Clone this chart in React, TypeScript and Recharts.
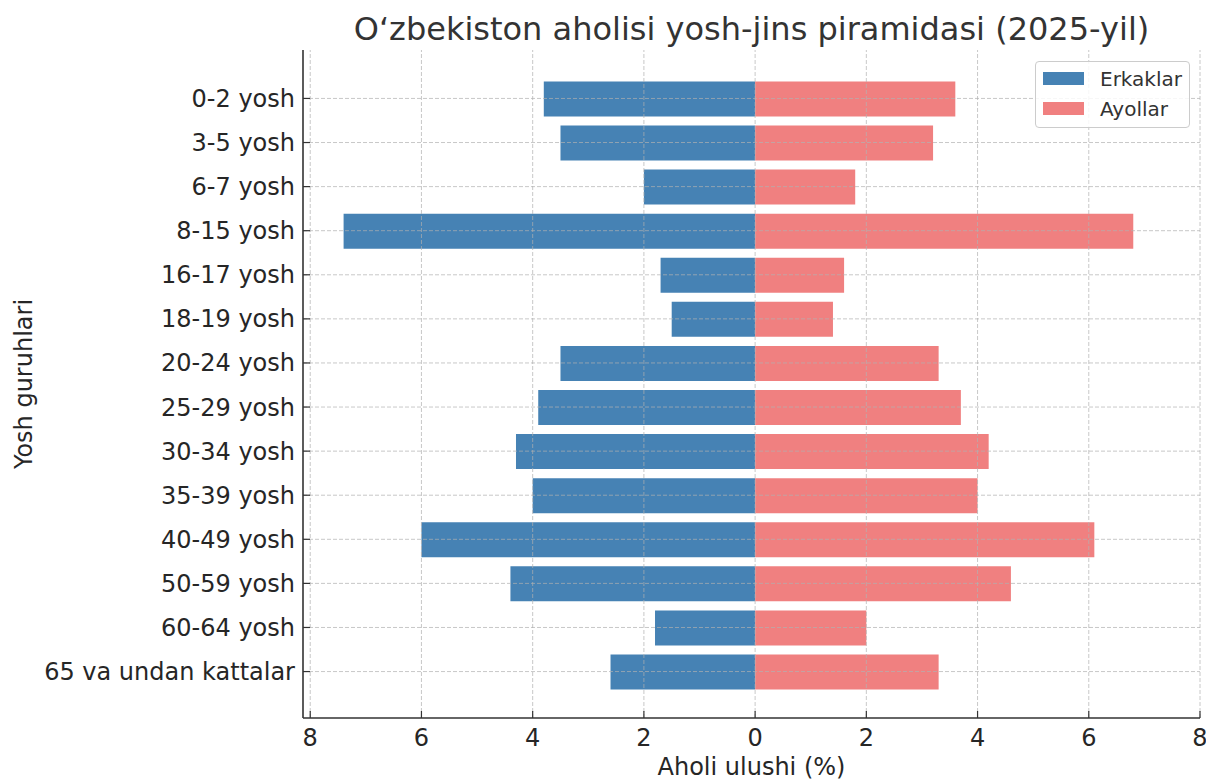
import React from 'react';
import { BarChart, Bar, XAxis, YAxis, ReferenceLine, Legend, Label } from 'recharts';

const ageGroups: string[] = [
  '0-2 yosh', '3-5 yosh', '6-7 yosh', '8-15 yosh', '16-17 yosh', '18-19 yosh',
  '20-24 yosh', '25-29 yosh', '30-34 yosh', '35-39 yosh', '40-49 yosh',
  '50-59 yosh', '60-64 yosh', '65 va undan kattalar',
];
const maleShare: number[] = [3.8, 3.5, 2.0, 7.4, 1.7, 1.5, 3.5, 3.9, 4.3, 4.0, 6.0, 4.4, 1.8, 2.6];
const femaleShare: number[] = [3.6, 3.2, 1.8, 6.8, 1.6, 1.4, 3.3, 3.7, 4.2, 4.0, 6.1, 4.6, 2.0, 3.3];
const xTicks: number[] = [-8, -6, -4, -2, 0, 2, 4, 6, 8];

const seriesNames = { male: 'Erkaklar', female: 'Ayollar' };
const seriesColors = { male: '#4682B4', female: '#F08080' };

const titleText = 'O\u2018zbekiston aholisi yosh-jins piramidasi (2025-yil)';
const xLabelText = 'Aholi ulushi (%)';
const yLabelText = 'Yosh guruhlari';

const data = ageGroups.map((g, i) => ({
  group: g,
  [seriesNames.male]: -maleShare[i],
  [seriesNames.female]: femaleShare[i],
}));

const FONT = '"DejaVu Sans", sans-serif';
const TEXT = '#262626';
const GRID = '#b0b0b0';

const legendItems = [
  { name: seriesNames.male, color: seriesColors.male },
  { name: seriesNames.female, color: seriesColors.female },
];

const LegendBox = () => (
  <div
    style={{
      width: 153,
      height: 65,
      border: '1px solid #cccccc',
      borderRadius: 4,
      background: 'rgba(255,255,255,0.85)',
      position: 'relative',
      fontFamily: FONT,
      fontSize: 20,
      color: '#333',
    }}
  >
    {legendItems.map((it, i) => (
      <div
        key={it.name}
        style={{ position: 'absolute', left: 0, top: 4 + i * 30, height: 26, width: 153 }}
      >
        <div
          style={{ position: 'absolute', left: 7, top: 6, width: 41, height: 13, background: it.color }}
        />
        <div style={{ position: 'absolute', left: 64, top: 0, lineHeight: '26px', whiteSpace: 'nowrap' }}>
          {it.name}
        </div>
      </div>
    ))}
  </div>
);

export default function App() {
  return (
    <div style={{ position: 'absolute', left: 0, top: 0, width: 1206, height: 780, background: '#fff', fontFamily: FONT }}>
      <BarChart
        width={1206}
        height={780}
        data={data}
        layout="vertical"
        stackOffset="sign"
        barSize={35}
        margin={{ top: 50, right: 6, bottom: 0, left: 0 }}
      >
        <XAxis
          type="number"
          domain={[-8.13, 8]}
          allowDataOverflow
          ticks={xTicks}
          tickFormatter={(v: number) => String(Math.abs(v))}
          height={62}
          tickSize={-7}
          tickMargin={18}
          axisLine={{ stroke: '#333', strokeWidth: 1.6 }}
          tickLine={{ stroke: '#333', strokeWidth: 1.2 }}
          tick={{ fill: TEXT, fontSize: 24, fontFamily: FONT }}
        >
          <Label
            content={() => (
              <text x={751.5} y={775} textAnchor="middle" fill={TEXT} fontSize={24} fontFamily={FONT}>
                {xLabelText}
              </text>
            )}
          />
        </XAxis>
        <YAxis
          type="category"
          dataKey="group"
          width={303}
          padding={{ top: 26.4, bottom: 24.4 }}
          tickSize={-7}
          tickMargin={15}
          interval={0}
          axisLine={{ stroke: '#333', strokeWidth: 1.6 }}
          tickLine={{ stroke: '#333', strokeWidth: 1.2 }}
          tick={{ fill: TEXT, fontSize: 24, fontFamily: FONT }}
        >
          <Label
            content={() => (
              <g>
                <text
                  x={32}
                  y={384}
                  transform="rotate(-90 32 384)"
                  textAnchor="middle"
                  fill={TEXT}
                  fontSize={24}
                  fontFamily={FONT}
                >
                  {yLabelText}
                </text>
                <text x={751.5} y={40} textAnchor="middle" fill="#333" fontSize={32} fontFamily={FONT}>
                  {titleText}
                </text>
              </g>
            )}
          />
        </YAxis>
        <Bar dataKey={seriesNames.male} name={seriesNames.male} stackId="pop" fill={seriesColors.male} isAnimationActive={false} />
        <Bar dataKey={seriesNames.female} name={seriesNames.female} stackId="pop" fill={seriesColors.female} isAnimationActive={false} />
        {xTicks.map((t) => (
          <ReferenceLine key={'x' + t} x={t} stroke={GRID} strokeOpacity={0.7} strokeDasharray="4 2" strokeWidth={1} />
        ))}
        {ageGroups.map((g) => (
          <ReferenceLine key={'y' + g} y={g} stroke={GRID} strokeOpacity={0.7} strokeDasharray="4 2" strokeWidth={1} />
        ))}
        <Legend
          layout="vertical"
          align="center"
          verticalAlign="middle"
          wrapperStyle={{ left: 1035, top: 61, width: 155, height: 67 }}
          content={() => <LegendBox />}
        />
      </BarChart>
    </div>
  );
}
